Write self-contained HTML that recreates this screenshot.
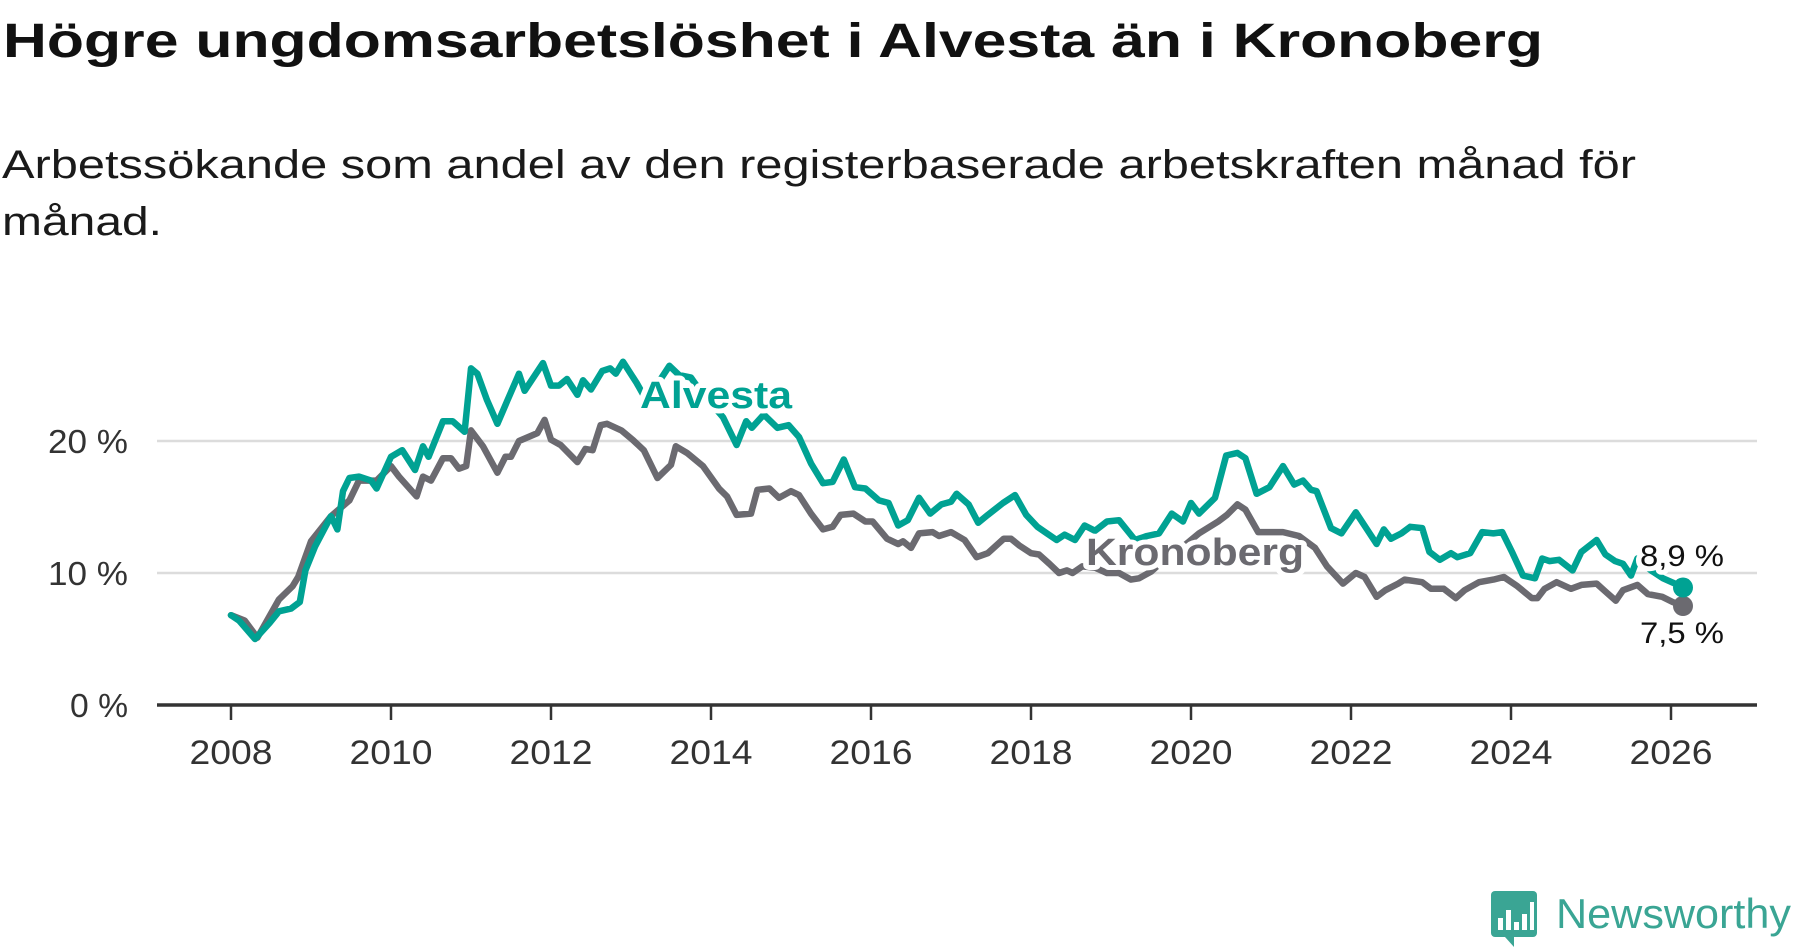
<!DOCTYPE html>
<html><head><meta charset="utf-8">
<style>
html,body{margin:0;padding:0;background:#fff;}
svg{display:block;font-family:"Liberation Sans","DejaVu Sans",sans-serif;}
</style></head>
<body>
<svg id="chart" width="1800" height="948" viewBox="0 0 1800 948" xmlns="http://www.w3.org/2000/svg">
<text x="3" y="57" font-size="48" font-weight="bold" fill="#111" textLength="1540" lengthAdjust="spacingAndGlyphs">Högre ungdomsarbetslöshet i Alvesta än i Kronoberg</text>
<text x="2" y="178" font-size="40" fill="#1a1a1a" textLength="1634" lengthAdjust="spacingAndGlyphs">Arbetssökande som andel av den registerbaserade arbetskraften månad för</text>
<text x="2" y="235" font-size="40" fill="#1a1a1a" textLength="160" lengthAdjust="spacingAndGlyphs">månad.</text>
<g id="grid"></g>
<g id="series"></g>
<g id="labels"></g>
<g>
<rect x="1491" y="891" width="46" height="46" rx="4" fill="#3aa594"/>
<path d="M1505 937 L1514 947 L1514 937 Z" fill="#3aa594"/>
<rect x="1498" y="918" width="5" height="12" fill="#fff"/>
<rect x="1506" y="910" width="5" height="20" fill="#fff"/>
<rect x="1514" y="922" width="5" height="8" fill="#fff"/>
<rect x="1522" y="914" width="5" height="16" fill="#fff"/>
<rect x="1530" y="902" width="4" height="28" fill="#fff"/>
<text x="1556" y="928" font-size="42" fill="#3aa594" textLength="235" lengthAdjust="spacingAndGlyphs">Newsworthy</text>
</g>
</svg>
<script>
const alvestaT=[2008.0,2008.1,2008.3,2008.48,2008.6,2008.75,2008.86,2008.93,2009.05,2009.25,2009.33,2009.4,2009.48,2009.6,2009.75,2009.82,2010.0,2010.14,2010.3,2010.4,2010.47,2010.65,2010.77,2010.92,2011.0,2011.08,2011.2,2011.33,2011.45,2011.6,2011.67,2011.9,2012.0,2012.1,2012.2,2012.33,2012.4,2012.5,2012.64,2012.74,2012.81,2012.9,2013.07,2013.2,2013.35,2013.48,2013.6,2013.75,2013.9,2014.05,2014.15,2014.32,2014.44,2014.51,2014.66,2014.83,2014.97,2015.1,2015.25,2015.4,2015.52,2015.66,2015.8,2015.93,2016.1,2016.22,2016.34,2016.46,2016.6,2016.74,2016.88,2017.0,2017.07,2017.22,2017.34,2017.46,2017.65,2017.8,2017.94,2018.08,2018.2,2018.32,2018.42,2018.55,2018.67,2018.8,2018.95,2019.1,2019.3,2019.45,2019.6,2019.76,2019.9,2020.0,2020.1,2020.3,2020.44,2020.58,2020.68,2020.82,2020.98,2021.15,2021.29,2021.4,2021.5,2021.57,2021.75,2021.88,2022.06,2022.19,2022.32,2022.41,2022.5,2022.63,2022.74,2022.89,2022.98,2023.11,2023.25,2023.33,2023.49,2023.64,2023.78,2023.89,2024.02,2024.15,2024.3,2024.39,2024.48,2024.6,2024.77,2024.88,2025.07,2025.18,2025.3,2025.4,2025.5,2025.58,2025.75,2025.9,2026.05,2026.15];
const alvestaV=[6.8,6.4,5.0,6.2,7.1,7.3,7.8,10.2,12.0,14.3,13.3,16.2,17.2,17.3,17.0,16.4,18.8,19.3,17.8,19.6,18.8,21.5,21.5,20.7,25.5,25.1,23.1,21.3,23.0,25.1,23.8,25.9,24.2,24.2,24.7,23.5,24.6,23.9,25.3,25.5,25.1,26.0,24.4,23.0,24.5,25.7,25.0,24.8,23.5,22.5,21.8,19.7,21.5,21.0,22.0,21.0,21.2,20.3,18.3,16.8,16.9,18.6,16.5,16.4,15.5,15.3,13.6,14.0,15.7,14.5,15.2,15.4,16.0,15.2,13.8,14.4,15.3,15.9,14.4,13.5,13.0,12.5,12.9,12.5,13.6,13.2,13.9,14.0,12.5,12.8,13.0,14.5,13.9,15.3,14.5,15.7,18.9,19.1,18.7,16.0,16.5,18.1,16.7,17.0,16.3,16.2,13.4,13.0,14.6,13.4,12.2,13.3,12.6,13.0,13.5,13.4,11.6,11.0,11.5,11.2,11.5,13.1,13.0,13.1,11.5,9.8,9.6,11.1,10.9,11.0,10.2,11.6,12.5,11.4,10.9,10.7,9.8,11.1,10.2,9.6,9.2,8.9];
const kronT=[2008.0,2008.17,2008.33,2008.6,2008.77,2008.84,2009.0,2009.25,2009.48,2009.6,2009.82,2010.0,2010.1,2010.32,2010.4,2010.5,2010.65,2010.75,2010.85,2010.94,2011.0,2011.15,2011.33,2011.43,2011.5,2011.6,2011.83,2011.92,2012.0,2012.12,2012.33,2012.43,2012.52,2012.62,2012.7,2012.88,2013.02,2013.16,2013.33,2013.45,2013.5,2013.56,2013.7,2013.9,2014.1,2014.2,2014.32,2014.5,2014.58,2014.73,2014.85,2015.0,2015.1,2015.25,2015.4,2015.52,2015.62,2015.78,2015.93,2016.02,2016.2,2016.34,2016.4,2016.5,2016.6,2016.77,2016.85,2017.0,2017.17,2017.32,2017.46,2017.66,2017.75,2017.85,2018.0,2018.1,2018.23,2018.35,2018.45,2018.52,2018.64,2018.8,2018.95,2019.1,2019.25,2019.35,2019.5,2019.7,2019.9,2020.1,2020.34,2020.45,2020.58,2020.68,2020.84,2021.0,2021.15,2021.35,2021.55,2021.7,2021.9,2022.06,2022.17,2022.32,2022.43,2022.59,2022.67,2022.89,2023.0,2023.16,2023.31,2023.42,2023.6,2023.78,2023.91,2024.08,2024.26,2024.33,2024.42,2024.57,2024.75,2024.88,2025.07,2025.18,2025.31,2025.4,2025.58,2025.71,2025.89,2026.02,2026.15];
const kronV=[6.8,6.4,5.1,8.0,9.0,9.7,12.4,14.3,15.5,17.0,17.0,18.1,17.3,15.8,17.3,17.0,18.7,18.7,17.9,18.1,20.8,19.6,17.6,18.8,18.8,20.0,20.6,21.6,20.1,19.7,18.4,19.4,19.3,21.2,21.3,20.8,20.1,19.3,17.2,17.9,18.2,19.6,19.1,18.1,16.4,15.8,14.4,14.5,16.3,16.4,15.7,16.2,15.9,14.5,13.3,13.5,14.4,14.5,13.9,13.9,12.6,12.2,12.4,11.9,13.0,13.1,12.8,13.1,12.5,11.2,11.5,12.6,12.6,12.1,11.5,11.4,10.7,10.0,10.2,10.0,10.5,10.4,10.0,10.0,9.5,9.6,10.1,11.2,12.0,13.0,13.9,14.4,15.2,14.8,13.1,13.1,13.1,12.8,11.9,10.5,9.2,10.0,9.7,8.2,8.7,9.2,9.5,9.3,8.8,8.8,8.1,8.7,9.3,9.5,9.7,9.0,8.1,8.1,8.8,9.3,8.8,9.1,9.2,8.6,7.9,8.7,9.1,8.4,8.2,7.8,7.5];
const yTicks=[0,10,20];
const yTickLabels=["0 %","10 %","20 %"];
const xTicks=[2008,2010,2012,2014,2016,2018,2020,2022,2024,2026];
const NS="http://www.w3.org/2000/svg";
const X=t=>231+80*(t-2008);
const Y=v=>705-13.2*v;
function mk(tag,attrs,parent){const e=document.createElementNS(NS,tag);for(const k in attrs)e.setAttribute(k,attrs[k]);parent.appendChild(e);return e;}
const grid=document.getElementById('grid');
yTicks.forEach((v,i)=>{
  if(v!==0){const g=mk('line',{x1:157,x2:1757,y1:Y(v),y2:Y(v),stroke:'#dcdcdc','stroke-width':2.5},grid);
  
  }
  const lw=yTickLabels[i].length===3?58:80;
  const t=mk('text',{x:128,y:Y(v)+12,'text-anchor':'end','font-size':33,fill:'#333',textLength:lw,lengthAdjust:'spacingAndGlyphs'},grid);
  t.textContent=yTickLabels[i];
  
  
});
const ax=mk('line',{x1:157,x2:1757,y1:705,y2:705,stroke:'#333','stroke-width':3.5},grid);


xTicks.forEach(yr=>{
  const tk=mk('line',{x1:X(yr),x2:X(yr),y1:705,y2:720,stroke:'#333','stroke-width':2.5},grid);
  
  
  const t=mk('text',{x:X(yr),y:764,'text-anchor':'middle','font-size':34,fill:'#333',textLength:83,lengthAdjust:'spacingAndGlyphs'},grid);
  t.textContent=yr;
  
  
});
const ser=document.getElementById('series');
function line(T,V,color,name){
  const d=T.map((t,i)=>(i?'L':'M')+X(t).toFixed(1)+' '+Y(V[i]).toFixed(1)).join(' ');
  const p=mk('path',{d:d,fill:'none',stroke:color,'stroke-width':6.5,'stroke-linejoin':'round','stroke-linecap':'round'},ser);
  
  
  const n=T.length-1;
  const c=mk('circle',{cx:X(T[n]),cy:Y(V[n]),r:10,fill:color},ser);
  
  
}
line(kronT,kronV,'#6b6a70','kronoberg');
line(alvestaT,alvestaV,'#00a293','alvesta');
const lab=document.getElementById('labels');
function label(x,y,txt,color,size,weight,name,len){
  const t=mk('text',{x:x,y:y,'font-size':size,'font-weight':weight,fill:color,stroke:'#fff','stroke-width':10,'paint-order':'stroke','stroke-linejoin':'round'},lab);
  if(len){t.setAttribute('textLength',len);t.setAttribute('lengthAdjust','spacingAndGlyphs');}
  t.textContent=txt;
  
  
}
label(640,408,'Alvesta','#00a293',38,'bold','alvesta-label',152);
label(1086,565,'Kronoberg','#6b6a70',38,'bold','kronoberg-label',218);
const nA=alvestaV.length-1,nK=kronV.length-1;
label(1640,566,alvestaV[nA].toFixed(1).replace('.',',')+' %','#111',30,'normal','alvesta-end-value',84);
label(1640,643,kronV[nK].toFixed(1).replace('.',',')+' %','#111',30,'normal','kronoberg-end-value',84);
</script>
</body></html>
